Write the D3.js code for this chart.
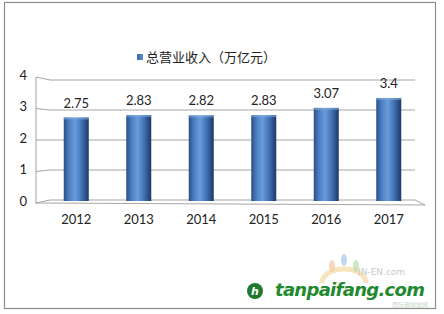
<!DOCTYPE html>
<html>
<head>
<meta charset="utf-8">
<script src="https://cdn.jsdelivr.net/npm/d3@7"></script>
<style>
  body { margin: 0; background: #fff; }
  svg { display: block; }
</style>
</head>
<body>
<svg width="444" height="314"></svg>
<script>
var years = ["2012", "2013", "2014", "2015", "2016", "2017"];
var revenue = [2.75, 2.83, 2.82, 2.83, 3.07, 3.4];
var valueLabels = ["2.75", "2.83", "2.82", "2.83", "3.07", "3.4"];
var yTicks = [0, 1, 2, 3, 4];
var seriesName = "总营业收入（万亿元）";

var svg = d3.select("svg");

// chart frame
svg.append("rect")
  .attr("x", 4.5).attr("y", 2.5)
  .attr("width", 431).attr("height", 306)
  .attr("fill", "#fff")
  .attr("stroke", "#8c8c8c")
  .attr("stroke-width", 1.2);

var x = d3.scaleBand().domain(years).range([45, 420]).paddingInner(0.6).paddingOuter(0.3);
var y = d3.scaleLinear().domain([0, 4]).range([200, 80]);

var defs = svg.append("defs");
var grad = defs.append("linearGradient").attr("id", "barGrad")
  .attr("x1", "0%").attr("x2", "100%").attr("y1", "0%").attr("y2", "0%");
grad.append("stop").attr("offset", "0%").attr("stop-color", "#2b4f86");
grad.append("stop").attr("offset", "20%").attr("stop-color", "#4a7cc0");
grad.append("stop").attr("offset", "45%").attr("stop-color", "#6a9cdc");
grad.append("stop").attr("offset", "70%").attr("stop-color", "#4574b8");
grad.append("stop").attr("offset", "100%").attr("stop-color", "#1c3866");

var lg = defs.append("linearGradient").attr("id", "legGrad")
  .attr("x1", "0%").attr("x2", "100%");
lg.append("stop").attr("offset", "0%").attr("stop-color", "#3b67a6");
lg.append("stop").attr("offset", "100%").attr("stop-color", "#5f8fd0");

// 3D wall gridlines
var grid = svg.append("g").attr("stroke", "#a6a6a6").attr("fill", "none").attr("stroke-width", 1);
yTicks.forEach(function (t) {
  var yb = y(t), yf = y(t) + (2 - t) * 1.5;
  if (t > 0) {
    grid.append("path").attr("d", "M36," + yf + "L50," + yb + "L415," + yb);
  }
});
// floor
grid.append("path")
  .attr("d", "M36," + (y(0) + 3) + "L50," + y(0) + "L415," + y(0) + "L425," + (y(0) + 5));
grid.append("path").attr("d", "M36," + (y(0) + 3) + "L425," + (y(0) + 5));
// y axis line
grid.append("path").attr("d", "M36," + (y(4) - 3) + "L36," + (y(0) + 4));

// y labels
svg.append("g").selectAll("text").data(yTicks).enter().append("text")
  .attr("x", 27)
  .attr("y", function (d) { return y(d) + (2 - d) * 1.5 - 2; })
  .attr("dy", "0.35em")
  .attr("text-anchor", "end")
  .style("font", "13px Lato, sans-serif")
  .attr("fill", "#222")
  .text(function (d) { return d; });

// bars
var bars = svg.append("g").selectAll("g").data(years).enter().append("g");
bars.append("rect")
  .attr("x", function (d) { return x(d); })
  .attr("y", function (d, i) { return y(revenue[i]); })
  .attr("width", x.bandwidth())
  .attr("height", function (d, i) { return y(0) + 1 - y(revenue[i]); })
  .attr("fill", "url(#barGrad)");
bars.append("rect")
  .attr("x", function (d) { return x(d); })
  .attr("y", function (d, i) { return y(revenue[i]); })
  .attr("width", x.bandwidth())
  .attr("height", 2)
  .attr("fill", "#7fa8de")
  .attr("opacity", 0.6);

// value labels
svg.append("g").selectAll("text").data(years).enter().append("text")
  .attr("x", function (d) { return x(d) + x.bandwidth() / 2; })
  .attr("y", function (d, i) { return y(revenue[i]) - 10; })
  .attr("text-anchor", "middle")
  .style("font", "13px Lato, sans-serif")
  .attr("fill", "#222")
  .text(function (d, i) { return valueLabels[i]; });

// x labels
svg.append("g").selectAll("text").data(years).enter().append("text")
  .attr("x", function (d) { return x(d) + x.bandwidth() / 2; })
  .attr("y", 224)
  .attr("text-anchor", "middle")
  .style("font", "13px Lato, sans-serif")
  .attr("fill", "#222")
  .text(function (d) { return d; });

// legend
svg.append("rect").attr("x", 137).attr("y", 54).attr("width", 6).attr("height", 6).attr("fill", "url(#legGrad)");
svg.append("text")
  .attr("x", 146).attr("y", 57).attr("dy", "0.35em")
  .style("font", "13px 'Noto Sans CJK SC', sans-serif")
  .attr("fill", "#222")
  .text(seriesName);

// watermark
var wm = svg.append("g");
wm.append("path").attr("d", "M322,283 A22,14 0 0 1 366,283").attr("fill", "none")
  .attr("stroke", "#f3d9a0").attr("stroke-width", 5).attr("opacity", 0.7);
wm.append("ellipse").attr("cx", 332).attr("cy", 266).attr("rx", 3).attr("ry", 6).attr("fill", "#f4c7a0").attr("opacity", 0.7);
wm.append("ellipse").attr("cx", 344).attr("cy", 260).attr("rx", 3).attr("ry", 6).attr("fill", "#a8c8ec").attr("opacity", 0.7);
wm.append("ellipse").attr("cx", 356).attr("cy", 266).attr("rx", 3).attr("ry", 6).attr("fill", "#b9dca8").attr("opacity", 0.7);
wm.append("text").attr("x", 358).attr("y", 275).style("font", "9px 'DejaVu Sans', sans-serif")
  .attr("fill", "#c9c9c9").text("IN-EN.com");
wm.append("text").attr("x", 392).attr("y", 307).style("font", "6px 'Noto Sans CJK SC', sans-serif")
  .attr("fill", "#c9dcc9").text("国际碳排放网");
wm.append("circle").attr("cx", 255).attr("cy", 291).attr("r", 8).attr("fill", "#1f7a2e");
wm.append("text").attr("x", 255).attr("y", 295).attr("text-anchor", "middle")
  .style("font", "bold italic 11px 'DejaVu Sans', sans-serif").attr("fill", "#fff").text("h");
wm.append("text").attr("x", 275).attr("y", 296)
  .style("font", "bold italic 18px 'DejaVu Sans', sans-serif")
  .attr("fill", "#1f8a2e")
  .attr("textLength", 150)
  .text("tanpaifang.com");
</script>
</body>
</html>
